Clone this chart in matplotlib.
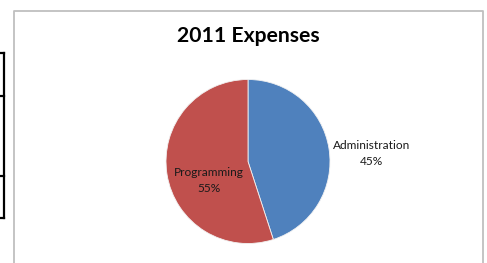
import matplotlib.pyplot as plt
from matplotlib.lines import Line2D

# chart data
categories = ['Administration', 'Programming']
shares = [45, 55]
palette = ['#4F81BD', '#C0504D']
title = '2011 Expenses'

W, H = 487, 263
fig = plt.figure(figsize=(W / 100, H / 100), dpi=100)
fig.patch.set_facecolor('white')


def px(x, y):
    # pixel coords (top-left origin) -> figure fraction
    return x / W, 1 - y / H


def line(xs, ys, color, lw):
    fx = [x / W for x in xs]
    fy = [1 - y / H for y in ys]
    fig.add_artist(Line2D(fx, fy, color=color, lw=lw, transform=fig.transFigure))


# chart frame (open at the bottom, cropped)
line([13.5, 13.5, 482.5, 482.5], [266, 10.5, 10.5, 266], '#BFBFBF', 1.3)

# spreadsheet cell borders on the far left
line([3.5, 3.5], [53, 218], 'black', 1.6)
for yy in [53, 96, 176, 218]:
    line([0, 4.3], [yy, yy], 'black', 1.6)

# pie axes
cx, cy, r = 248, 161.5, 82
ax = fig.add_axes([(cx - r) / W, 1 - (cy + r) / H, 2 * r / W, 2 * r / H])
ax.pie(shares, colors=palette, startangle=90, counterclock=False,
       wedgeprops=dict(edgecolor='#F2F2F2', linewidth=0.6))
ax.set_xlim(-1, 1)
ax.set_ylim(-1, 1)
ax.set_aspect('equal')
ax.axis('off')

font = ['Lato', 'DejaVu Sans']
label_pos = [(1.51, 0.10), (-0.48, -0.23)]
for name, val, (lx, ly) in zip(categories, shares, label_pos):
    ax.text(lx, ly, f'{name}\n{val}%', ha='center', va='center',
            fontsize=8.6, family=font, color='#1a1a1a', linespacing=1.5)

fx, fy = px(248, 36)
fig.text(fx, fy, title, ha='center', va='center', fontsize=15.2,
         fontweight='bold', family=font, color='black')

fig.savefig('out.png', dpi=100, facecolor='white')
